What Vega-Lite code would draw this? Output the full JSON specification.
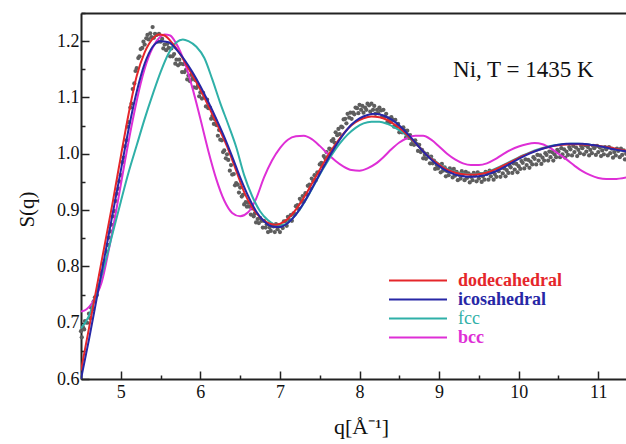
{
  "$schema": "https://vega.github.io/schema/vega-lite/v6.json",
  "width": 546,
  "height": 366,
  "autosize": {"type": "none"},
  "padding": {"left": 81, "top": 13, "right": 0, "bottom": 65},
  "background": "white",
  "config": {
    "view": {"stroke": null},
    "font": "Liberation Serif",
    "axis": {"labelFont": "Liberation Serif", "titleFont": "Liberation Serif", "domainColor": "#222", "tickColor": "#222", "labelColor": "#111", "titleColor": "#111", "grid": false, "domainWidth": 2, "tickWidth": 1.5}
  },
  "datasets": {
    "exp": [
      {"q":4.5,"s":0.685},{"q":4.51,"s":0.674},{"q":4.525,"s":0.692},{"q":4.54,"s":0.688},{"q":4.55,"s":0.703},{"q":4.575,"s":0.7},{"q":4.6,"s":0.716},{"q":4.615,"s":0.708},{"q":4.625,"s":0.727},{"q":4.65,"s":0.724},{"q":4.66,"s":0.738},{"q":4.675,"s":0.745},{"q":4.7,"s":0.749},{"q":4.72,"s":0.766},{"q":4.75,"s":0.786},{"q":4.765,"s":0.79},{"q":4.78,"s":0.805},{"q":4.8,"s":0.808},{"q":4.82,"s":0.826},{"q":4.835,"s":0.838},{"q":4.85,"s":0.851},{"q":4.87,"s":0.862},{"q":4.88,"s":0.874},{"q":4.9,"s":0.889},{"q":4.92,"s":0.898},{"q":4.935,"s":0.916},{"q":4.95,"s":0.929},{"q":4.97,"s":0.938},{"q":4.98,"s":0.951},{"q":5.0,"s":0.962},{"q":5.02,"s":0.985},{"q":5.035,"s":0.993},{"q":5.05,"s":1.013},{"q":5.07,"s":1.024},{"q":5.085,"s":1.048},{"q":5.1,"s":1.056},{"q":5.12,"s":1.082},{"q":5.135,"s":1.089},{"q":5.15,"s":1.115},{"q":5.17,"s":1.125},{"q":5.185,"s":1.147},{"q":5.2,"s":1.152},{"q":5.22,"s":1.17},{"q":5.235,"s":1.173},{"q":5.25,"s":1.186},{"q":5.27,"s":1.188},{"q":5.285,"s":1.199},{"q":5.3,"s":1.194},{"q":5.32,"s":1.205},{"q":5.335,"s":1.211},{"q":5.35,"s":1.203},{"q":5.37,"s":1.214},{"q":5.385,"s":1.207},{"q":5.4,"s":1.225},{"q":5.415,"s":1.206},{"q":5.43,"s":1.213},
      {"q":5.45,"s":1.211},{"q":5.465,"s":1.199},{"q":5.48,"s":1.213},{"q":5.5,"s":1.199},{"q":5.52,"s":1.204},{"q":5.535,"s":1.187},{"q":5.55,"s":1.194},{"q":5.57,"s":1.184},{"q":5.585,"s":1.195},{"q":5.6,"s":1.188},{"q":5.62,"s":1.173},{"q":5.635,"s":1.187},{"q":5.65,"s":1.173},{"q":5.67,"s":1.177},{"q":5.685,"s":1.16},{"q":5.7,"s":1.167},{"q":5.72,"s":1.157},{"q":5.735,"s":1.167},{"q":5.75,"s":1.16},{"q":5.77,"s":1.145},{"q":5.785,"s":1.159},{"q":5.8,"s":1.145},{"q":5.82,"s":1.149},{"q":5.835,"s":1.132},{"q":5.85,"s":1.139},{"q":5.87,"s":1.129},{"q":5.885,"s":1.14},{"q":5.9,"s":1.133},{"q":5.92,"s":1.118},{"q":5.935,"s":1.131},{"q":5.95,"s":1.117},{"q":5.97,"s":1.121},{"q":5.985,"s":1.102},{"q":6.0,"s":1.109},{"q":6.02,"s":1.098},{"q":6.035,"s":1.108},{"q":6.05,"s":1.1},{"q":6.07,"s":1.084},{"q":6.085,"s":1.096},{"q":6.1,"s":1.081},{"q":6.12,"s":1.082},{"q":6.135,"s":1.062},{"q":6.15,"s":1.067},{"q":6.17,"s":1.053},{"q":6.185,"s":1.061},{"q":6.2,"s":1.051},{"q":6.22,"s":1.032},{"q":6.235,"s":1.042},{"q":6.25,"s":1.025},{"q":6.27,"s":1.024},{"q":6.285,"s":1.003},{"q":6.3,"s":1.006},{"q":6.32,"s":0.992},{"q":6.335,"s":0.999},{"q":6.35,"s":0.989},{"q":6.37,"s":0.97},{"q":6.385,"s":0.98},{"q":6.4,"s":0.963},{"q":6.42,"s":0.964},{"q":6.435,"s":0.944},{"q":6.45,"s":0.948},
      {"q":6.47,"s":0.945},{"q":6.485,"s":0.931},{"q":6.5,"s":0.94},{"q":6.52,"s":0.924},{"q":6.535,"s":0.927},{"q":6.55,"s":0.91},{"q":6.57,"s":0.914},{"q":6.585,"s":0.906},{"q":6.6,"s":0.913},{"q":6.62,"s":0.906},{"q":6.635,"s":0.892},{"q":6.65,"s":0.903},{"q":6.67,"s":0.889},{"q":6.685,"s":0.894},{"q":6.7,"s":0.878},{"q":6.72,"s":0.884},{"q":6.735,"s":0.877},{"q":6.75,"s":0.886},{"q":6.77,"s":0.881},{"q":6.785,"s":0.869},{"q":6.8,"s":0.881},{"q":6.82,"s":0.869},{"q":6.835,"s":0.875},{"q":6.85,"s":0.861},{"q":6.87,"s":0.869},{"q":6.885,"s":0.863},{"q":6.9,"s":0.874},{"q":6.92,"s":0.871},{"q":6.935,"s":0.861},{"q":6.95,"s":0.875},{"q":6.97,"s":0.866},{"q":6.985,"s":0.873},{"q":7.0,"s":0.861},{"q":7.02,"s":0.872},{"q":7.035,"s":0.868},{"q":7.05,"s":0.88},{"q":7.07,"s":0.88},{"q":7.085,"s":0.872},{"q":7.1,"s":0.888},{"q":7.12,"s":0.882},{"q":7.135,"s":0.891},{"q":7.15,"s":0.881},{"q":7.17,"s":0.894},{"q":7.185,"s":0.893},{"q":7.2,"s":0.907},{"q":7.22,"s":0.909},{"q":7.235,"s":0.902},{"q":7.25,"s":0.92},{"q":7.27,"s":0.915},{"q":7.285,"s":0.925},{"q":7.3,"s":0.916},{"q":7.32,"s":0.93},{"q":7.335,"s":0.928},{"q":7.35,"s":0.943},{"q":7.37,"s":0.945},{"q":7.385,"s":0.938},{"q":7.4,"s":0.956},{"q":7.42,"s":0.951},{"q":7.435,"s":0.962},{"q":7.45,"s":0.953},{"q":7.47,"s":0.967},{"q":7.485,"s":0.966},{"q":7.5,"s":0.981},{"q":7.52,"s":0.984},{"q":7.535,"s":0.978},{"q":7.55,"s":0.996},{"q":7.57,"s":0.992},{"q":7.585,"s":1.003},{"q":7.6,"s":0.994},{"q":7.62,"s":1.009},{"q":7.635,"s":1.008},{"q":7.65,"s":1.023},{"q":7.67,"s":1.026},{"q":7.685,"s":1.02},{"q":7.7,"s":1.038},{"q":7.72,"s":1.033},{"q":7.735,"s":1.044},{"q":7.75,"s":1.035},{"q":7.77,"s":1.048},{"q":7.785,"s":1.047},{"q":7.8,"s":1.061},{"q":7.82,"s":1.062},{"q":7.835,"s":1.054},{"q":7.85,"s":1.071},{"q":7.87,"s":1.064},{"q":7.885,"s":1.073},{"q":7.9,"s":1.062},{"q":7.92,"s":1.073},{"q":7.935,"s":1.07},{"q":7.95,"s":1.082},{"q":7.97,"s":1.081},{"q":7.985,"s":1.072},{"q":8.0,"s":1.087},{"q":8.02,"s":1.078},{"q":8.035,"s":1.085},{"q":8.05,"s":1.073},{"q":8.07,"s":1.082},{"q":8.085,"s":1.078},{"q":8.1,"s":1.089},{"q":8.12,"s":1.086},{"q":8.135,"s":1.075},{"q":8.15,"s":1.089},{"q":8.17,"s":1.078},{"q":8.185,"s":1.085},{"q":8.2,"s":1.071},{"q":8.22,"s":1.078},{"q":8.235,"s":1.072},{"q":8.25,"s":1.082},{"q":8.27,"s":1.077},{"q":8.285,"s":1.066},{"q":8.3,"s":1.078},{"q":8.32,"s":1.066},{"q":8.335,"s":1.071},{"q":8.35,"s":1.056},{"q":8.37,"s":1.063},{"q":8.385,"s":1.056},{"q":8.4,"s":1.065},{"q":8.42,"s":1.06},{"q":8.435,"s":1.048},{"q":8.45,"s":1.06},{"q":8.47,"s":1.048},{"q":8.485,"s":1.053},{"q":8.5,"s":1.038},{"q":8.52,"s":1.045},{"q":8.535,"s":1.038},{"q":8.55,"s":1.047},{"q":8.57,"s":1.041},{"q":8.585,"s":1.029},{"q":8.6,"s":1.041},{"q":8.62,"s":1.028},{"q":8.635,"s":1.033},{"q":8.65,"s":1.017},{"q":8.67,"s":1.023},{"q":8.685,"s":1.016},{"q":8.7,"s":1.024},{"q":8.72,"s":1.017},{"q":8.735,"s":1.005},{"q":8.75,"s":1.016},{"q":8.77,"s":1.003},{"q":8.785,"s":1.007},{"q":8.8,"s":0.992},{"q":8.82,"s":0.998},{"q":8.835,"s":0.991},{"q":8.85,"s":1.0},{"q":8.87,"s":0.995},{"q":8.885,"s":0.983},{"q":8.9,"s":0.995},{"q":8.92,"s":0.983},{"q":8.935,"s":0.988},{"q":8.95,"s":0.973},{"q":8.97,"s":0.98},{"q":8.985,"s":0.974},
      {"q":9.0,"s":0.979},{"q":9.02,"s":0.967},{"q":9.035,"s":0.982},{"q":9.05,"s":0.97},{"q":9.07,"s":0.976},{"q":9.085,"s":0.96},{"q":9.1,"s":0.969},{"q":9.12,"s":0.962},{"q":9.135,"s":0.974},{"q":9.15,"s":0.97},{"q":9.17,"s":0.958},{"q":9.185,"s":0.973},{"q":9.2,"s":0.961},{"q":9.22,"s":0.968},{"q":9.235,"s":0.953},{"q":9.25,"s":0.963},{"q":9.27,"s":0.956},{"q":9.285,"s":0.969},{"q":9.3,"s":0.964},{"q":9.32,"s":0.953},{"q":9.335,"s":0.968},{"q":9.35,"s":0.957},{"q":9.37,"s":0.965},{"q":9.385,"s":0.949},{"q":9.4,"s":0.959},{"q":9.42,"s":0.953},{"q":9.435,"s":0.966},{"q":9.45,"s":0.962},{"q":9.47,"s":0.951},{"q":9.485,"s":0.967},{"q":9.5,"s":0.956},{"q":9.52,"s":0.964},{"q":9.535,"s":0.95},{"q":9.55,"s":0.96},{"q":9.57,"s":0.954},{"q":9.585,"s":0.968},{"q":9.6,"s":0.964},{"q":9.62,"s":0.954},{"q":9.635,"s":0.97},{"q":9.65,"s":0.96},{"q":9.67,"s":0.968},{"q":9.685,"s":0.954},{"q":9.7,"s":0.964},{"q":9.72,"s":0.959},{"q":9.735,"s":0.972},{"q":9.75,"s":0.969},{"q":9.77,"s":0.959},{"q":9.785,"s":0.975},{"q":9.8,"s":0.965},{"q":9.82,"s":0.974},{"q":9.835,"s":0.96},{"q":9.85,"s":0.971},{"q":9.87,"s":0.966},{"q":9.885,"s":0.979},{"q":9.9,"s":0.976},{"q":9.92,"s":0.966},{"q":9.935,"s":0.983},{"q":9.95,"s":0.972},{"q":9.97,"s":0.982},{"q":9.985,"s":0.967},{"q":10.0,"s":0.978},{"q":10.02,"s":0.973},{"q":10.035,"s":0.987},{"q":10.05,"s":0.984},{"q":10.07,"s":0.974},{"q":10.085,"s":0.99},{"q":10.1,"s":0.98},{"q":10.12,"s":0.989},{"q":10.135,"s":0.975},{"q":10.15,"s":0.986},{"q":10.17,"s":0.981},{"q":10.185,"s":0.994},{"q":10.2,"s":0.991},{"q":10.22,"s":0.981},{"q":10.235,"s":0.998},{"q":10.25,"s":0.988},{"q":10.27,"s":0.997},{"q":10.285,"s":0.982},{"q":10.3,"s":0.993},{"q":10.32,"s":0.988},{"q":10.335,"s":1.001},{"q":10.35,"s":0.998},{"q":10.37,"s":0.988},{"q":10.385,"s":1.004},{"q":10.4,"s":0.994},{"q":10.42,"s":1.003},{"q":10.435,"s":0.988},{"q":10.45,"s":0.999},{"q":10.47,"s":0.994},{"q":10.485,"s":1.007},{"q":10.5,"s":1.004},{"q":10.52,"s":0.994},{"q":10.535,"s":1.01},{"q":10.55,"s":0.999},{"q":10.57,"s":1.008},{"q":10.585,"s":0.993},{"q":10.6,"s":1.004},{"q":10.62,"s":0.998},{"q":10.635,"s":1.012},{"q":10.65,"s":1.008},{"q":10.67,"s":0.997},{"q":10.685,"s":1.014},{"q":10.7,"s":1.003},{"q":10.72,"s":1.011},{"q":10.735,"s":0.996},{"q":10.75,"s":1.007},{"q":10.77,"s":1.001},{"q":10.785,"s":1.014},{"q":10.8,"s":1.01},{"q":10.82,"s":0.999},{"q":10.835,"s":1.015},{"q":10.85,"s":1.004},{"q":10.87,"s":1.012},{"q":10.885,"s":0.997},{"q":10.9,"s":1.007},{"q":10.92,"s":1.001},{"q":10.935,"s":1.014},{"q":10.95,"s":1.01},{"q":10.97,"s":0.998},{"q":10.985,"s":1.014},{"q":11.0,"s":1.003},{"q":11.02,"s":1.011},{"q":11.035,"s":0.996},{"q":11.05,"s":1.006},{"q":11.07,"s":0.999},{"q":11.085,"s":1.012},{"q":11.1,"s":1.008},{"q":11.12,"s":0.997},{"q":11.135,"s":1.012},{"q":11.15,"s":1.001},{"q":11.17,"s":1.009},{"q":11.185,"s":0.993},{"q":11.2,"s":1.003},{"q":11.22,"s":0.997},{"q":11.235,"s":1.009},{"q":11.25,"s":1.005},{"q":11.27,"s":0.994},{"q":11.285,"s":1.009},{"q":11.3,"s":0.998},{"q":11.32,"s":1.006},{"q":11.335,"s":0.99},{"q":11.35,"s":1.0}
    ],
    "curves": [
      {"m":"bcc","q":4.5,"s":0.72},{"m":"bcc","q":4.57,"s":0.724},{"m":"bcc","q":4.64,"s":0.735},{"m":"bcc","q":4.7,"s":0.75},{"m":"bcc","q":4.76,"s":0.772},{"m":"bcc","q":4.85,"s":0.83},{"m":"bcc","q":4.95,"s":0.905},{"m":"bcc","q":5.05,"s":0.985},{"m":"bcc","q":5.15,"s":1.06},{"m":"bcc","q":5.25,"s":1.125},{"m":"bcc","q":5.35,"s":1.172},{"m":"bcc","q":5.45,"s":1.2},{"m":"bcc","q":5.55,"s":1.212},{"m":"bcc","q":5.62,"s":1.21},{"m":"bcc","q":5.7,"s":1.195},{"m":"bcc","q":5.8,"s":1.163},{"m":"bcc","q":5.9,"s":1.117},{"m":"bcc","q":6.0,"s":1.062},{"m":"bcc","q":6.1,"s":1.005},{"m":"bcc","q":6.2,"s":0.955},{"m":"bcc","q":6.3,"s":0.917},{"m":"bcc","q":6.4,"s":0.895},{"m":"bcc","q":6.5,"s":0.889},{"m":"bcc","q":6.6,"s":0.896},{"m":"bcc","q":6.7,"s":0.92},{"m":"bcc","q":6.8,"s":0.958},{"m":"bcc","q":6.9,"s":0.988},{"m":"bcc","q":7.0,"s":1.01},{"m":"bcc","q":7.1,"s":1.025},{"m":"bcc","q":7.2,"s":1.031},{"m":"bcc","q":7.3,"s":1.032},{"m":"bcc","q":7.4,"s":1.026},{"m":"bcc","q":7.5,"s":1.014},{"m":"bcc","q":7.6,"s":1.0},{"m":"bcc","q":7.7,"s":0.987},{"m":"bcc","q":7.8,"s":0.977},{"m":"bcc","q":7.9,"s":0.971},{"m":"bcc","q":8.0,"s":0.97},{"m":"bcc","q":8.1,"s":0.974},{"m":"bcc","q":8.2,"s":0.982},{"m":"bcc","q":8.3,"s":0.994},{"m":"bcc","q":8.4,"s":1.008},{"m":"bcc","q":8.5,"s":1.02},{"m":"bcc","q":8.6,"s":1.028},{"m":"bcc","q":8.7,"s":1.032},{"m":"bcc","q":8.8,"s":1.032},{"m":"bcc","q":8.9,"s":1.025},{"m":"bcc","q":9.0,"s":1.013},{"m":"bcc","q":9.1,"s":1.0},{"m":"bcc","q":9.2,"s":0.99},{"m":"bcc","q":9.3,"s":0.983},{"m":"bcc","q":9.4,"s":0.98},{"m":"bcc","q":9.5,"s":0.98},{"m":"bcc","q":9.6,"s":0.983},{"m":"bcc","q":9.7,"s":0.99},{"m":"bcc","q":9.8,"s":0.999},{"m":"bcc","q":9.9,"s":1.007},{"m":"bcc","q":10.0,"s":1.013},{"m":"bcc","q":10.1,"s":1.017},{"m":"bcc","q":10.2,"s":1.019},{"m":"bcc","q":10.3,"s":1.017},{"m":"bcc","q":10.4,"s":1.01},{"m":"bcc","q":10.5,"s":1.0},{"m":"bcc","q":10.6,"s":0.99},{"m":"bcc","q":10.7,"s":0.979},{"m":"bcc","q":10.8,"s":0.969},{"m":"bcc","q":10.9,"s":0.962},{"m":"bcc","q":11.0,"s":0.957},{"m":"bcc","q":11.1,"s":0.955},{"m":"bcc","q":11.2,"s":0.955},{"m":"bcc","q":11.36,"s":0.958},
      {"m":"fcc","q":4.5,"s":0.69},{"m":"fcc","q":4.6,"s":0.712},{"m":"fcc","q":4.7,"s":0.755},{"m":"fcc","q":4.8,"s":0.805},{"m":"fcc","q":4.9,"s":0.86},{"m":"fcc","q":5.0,"s":0.915},{"m":"fcc","q":5.1,"s":0.968},{"m":"fcc","q":5.2,"s":1.015},{"m":"fcc","q":5.3,"s":1.062},{"m":"fcc","q":5.4,"s":1.105},{"m":"fcc","q":5.5,"s":1.145},{"m":"fcc","q":5.6,"s":1.178},{"m":"fcc","q":5.7,"s":1.198},{"m":"fcc","q":5.78,"s":1.203},{"m":"fcc","q":5.85,"s":1.2},{"m":"fcc","q":5.95,"s":1.19},{"m":"fcc","q":6.05,"s":1.17},{"m":"fcc","q":6.15,"s":1.132},{"m":"fcc","q":6.25,"s":1.09},{"m":"fcc","q":6.35,"s":1.052},{"m":"fcc","q":6.45,"s":1.012},{"m":"fcc","q":6.55,"s":0.962},{"m":"fcc","q":6.65,"s":0.925},{"m":"fcc","q":6.75,"s":0.898},{"m":"fcc","q":6.85,"s":0.882},{"m":"fcc","q":6.95,"s":0.874},{"m":"fcc","q":7.05,"s":0.874},{"m":"fcc","q":7.15,"s":0.884},{"m":"fcc","q":7.25,"s":0.901},{"m":"fcc","q":7.35,"s":0.924},{"m":"fcc","q":7.45,"s":0.95},{"m":"fcc","q":7.55,"s":0.975},{"m":"fcc","q":7.65,"s":0.998},{"m":"fcc","q":7.75,"s":1.018},{"m":"fcc","q":7.85,"s":1.034},{"m":"fcc","q":7.95,"s":1.046},{"m":"fcc","q":8.05,"s":1.054},{"m":"fcc","q":8.15,"s":1.057},{"m":"fcc","q":8.25,"s":1.057},{"m":"fcc","q":8.35,"s":1.053},{"m":"fcc","q":8.45,"s":1.046},{"m":"fcc","q":8.55,"s":1.037},{"m":"fcc","q":8.65,"s":1.025},{"m":"fcc","q":8.75,"s":1.012},{"m":"fcc","q":8.85,"s":0.999},{"m":"fcc","q":8.95,"s":0.987},{"m":"fcc","q":9.05,"s":0.977},{"m":"fcc","q":9.15,"s":0.97},{"m":"fcc","q":9.25,"s":0.966},{"m":"fcc","q":9.35,"s":0.964},{"m":"fcc","q":9.45,"s":0.964},{"m":"fcc","q":9.55,"s":0.966},{"m":"fcc","q":9.65,"s":0.97},{"m":"fcc","q":9.75,"s":0.976},{"m":"fcc","q":9.85,"s":0.983},{"m":"fcc","q":9.95,"s":0.99},{"m":"fcc","q":10.05,"s":0.997},{"m":"fcc","q":10.15,"s":1.003},{"m":"fcc","q":10.25,"s":1.008},{"m":"fcc","q":10.35,"s":1.012},{"m":"fcc","q":10.45,"s":1.015},{"m":"fcc","q":10.55,"s":1.017},{"m":"fcc","q":10.65,"s":1.018},{"m":"fcc","q":10.75,"s":1.018},{"m":"fcc","q":10.85,"s":1.017},{"m":"fcc","q":10.95,"s":1.015},{"m":"fcc","q":11.05,"s":1.013},{"m":"fcc","q":11.15,"s":1.01},{"m":"fcc","q":11.25,"s":1.007},{"m":"fcc","q":11.36,"s":1.004},
      {"m":"dodecahedral","q":4.5,"s":0.615},{"m":"dodecahedral","q":4.6,"s":0.69},{"m":"dodecahedral","q":4.7,"s":0.765},{"m":"dodecahedral","q":4.8,"s":0.84},{"m":"dodecahedral","q":4.9,"s":0.915},{"m":"dodecahedral","q":5.0,"s":0.995},{"m":"dodecahedral","q":5.1,"s":1.072},{"m":"dodecahedral","q":5.2,"s":1.138},{"m":"dodecahedral","q":5.3,"s":1.18},{"m":"dodecahedral","q":5.4,"s":1.204},{"m":"dodecahedral","q":5.48,"s":1.212},{"m":"dodecahedral","q":5.55,"s":1.21},{"m":"dodecahedral","q":5.65,"s":1.196},{"m":"dodecahedral","q":5.75,"s":1.176},{"m":"dodecahedral","q":5.85,"s":1.152},{"m":"dodecahedral","q":5.95,"s":1.127},{"m":"dodecahedral","q":6.05,"s":1.1},{"m":"dodecahedral","q":6.15,"s":1.07},{"m":"dodecahedral","q":6.25,"s":1.04},{"m":"dodecahedral","q":6.35,"s":1.008},{"m":"dodecahedral","q":6.45,"s":0.97},{"m":"dodecahedral","q":6.55,"s":0.932},{"m":"dodecahedral","q":6.65,"s":0.905},{"m":"dodecahedral","q":6.75,"s":0.887},{"m":"dodecahedral","q":6.85,"s":0.877},{"m":"dodecahedral","q":6.95,"s":0.874},{"m":"dodecahedral","q":7.05,"s":0.879},{"m":"dodecahedral","q":7.15,"s":0.892},{"m":"dodecahedral","q":7.25,"s":0.911},{"m":"dodecahedral","q":7.35,"s":0.934},{"m":"dodecahedral","q":7.45,"s":0.959},{"m":"dodecahedral","q":7.55,"s":0.984},{"m":"dodecahedral","q":7.65,"s":1.007},{"m":"dodecahedral","q":7.75,"s":1.027},{"m":"dodecahedral","q":7.85,"s":1.044},{"m":"dodecahedral","q":7.95,"s":1.056},{"m":"dodecahedral","q":8.05,"s":1.063},{"m":"dodecahedral","q":8.15,"s":1.066},{"m":"dodecahedral","q":8.25,"s":1.065},{"m":"dodecahedral","q":8.35,"s":1.06},{"m":"dodecahedral","q":8.45,"s":1.051},{"m":"dodecahedral","q":8.55,"s":1.04},{"m":"dodecahedral","q":8.65,"s":1.026},{"m":"dodecahedral","q":8.75,"s":1.012},{"m":"dodecahedral","q":8.85,"s":0.998},{"m":"dodecahedral","q":8.95,"s":0.986},{"m":"dodecahedral","q":9.05,"s":0.976},{"m":"dodecahedral","q":9.15,"s":0.969},{"m":"dodecahedral","q":9.25,"s":0.965},{"m":"dodecahedral","q":9.35,"s":0.963},{"m":"dodecahedral","q":9.45,"s":0.963},{"m":"dodecahedral","q":9.55,"s":0.965},{"m":"dodecahedral","q":9.65,"s":0.969},{"m":"dodecahedral","q":9.75,"s":0.975},{"m":"dodecahedral","q":9.85,"s":0.982},{"m":"dodecahedral","q":9.95,"s":0.989},{"m":"dodecahedral","q":10.05,"s":0.996},{"m":"dodecahedral","q":10.15,"s":1.002},{"m":"dodecahedral","q":10.25,"s":1.007},{"m":"dodecahedral","q":10.35,"s":1.011},{"m":"dodecahedral","q":10.45,"s":1.014},{"m":"dodecahedral","q":10.55,"s":1.016},{"m":"dodecahedral","q":10.65,"s":1.017},{"m":"dodecahedral","q":10.75,"s":1.017},{"m":"dodecahedral","q":10.85,"s":1.016},{"m":"dodecahedral","q":10.95,"s":1.015},{"m":"dodecahedral","q":11.05,"s":1.013},{"m":"dodecahedral","q":11.15,"s":1.011},{"m":"dodecahedral","q":11.25,"s":1.008},{"m":"dodecahedral","q":11.36,"s":1.005},
      {"m":"icosahedral","q":4.5,"s":0.6},{"m":"icosahedral","q":4.6,"s":0.67},{"m":"icosahedral","q":4.7,"s":0.745},{"m":"icosahedral","q":4.8,"s":0.82},{"m":"icosahedral","q":4.9,"s":0.895},{"m":"icosahedral","q":5.0,"s":0.97},{"m":"icosahedral","q":5.1,"s":1.045},{"m":"icosahedral","q":5.2,"s":1.11},{"m":"icosahedral","q":5.3,"s":1.16},{"m":"icosahedral","q":5.4,"s":1.19},{"m":"icosahedral","q":5.5,"s":1.2},{"m":"icosahedral","q":5.6,"s":1.198},{"m":"icosahedral","q":5.7,"s":1.185},{"m":"icosahedral","q":5.8,"s":1.167},{"m":"icosahedral","q":5.9,"s":1.145},{"m":"icosahedral","q":6.0,"s":1.12},{"m":"icosahedral","q":6.1,"s":1.092},{"m":"icosahedral","q":6.2,"s":1.062},{"m":"icosahedral","q":6.3,"s":1.03},{"m":"icosahedral","q":6.4,"s":0.995},{"m":"icosahedral","q":6.5,"s":0.958},{"m":"icosahedral","q":6.6,"s":0.925},{"m":"icosahedral","q":6.7,"s":0.898},{"m":"icosahedral","q":6.8,"s":0.88},{"m":"icosahedral","q":6.9,"s":0.871},{"m":"icosahedral","q":7.0,"s":0.87},{"m":"icosahedral","q":7.1,"s":0.877},{"m":"icosahedral","q":7.2,"s":0.892},{"m":"icosahedral","q":7.3,"s":0.913},{"m":"icosahedral","q":7.4,"s":0.938},{"m":"icosahedral","q":7.5,"s":0.964},{"m":"icosahedral","q":7.6,"s":0.99},{"m":"icosahedral","q":7.7,"s":1.014},{"m":"icosahedral","q":7.8,"s":1.035},{"m":"icosahedral","q":7.9,"s":1.052},{"m":"icosahedral","q":8.0,"s":1.063},{"m":"icosahedral","q":8.1,"s":1.069},{"m":"icosahedral","q":8.2,"s":1.071},{"m":"icosahedral","q":8.3,"s":1.068},{"m":"icosahedral","q":8.4,"s":1.061},{"m":"icosahedral","q":8.5,"s":1.05},{"m":"icosahedral","q":8.6,"s":1.036},{"m":"icosahedral","q":8.7,"s":1.02},{"m":"icosahedral","q":8.8,"s":1.004},{"m":"icosahedral","q":8.9,"s":0.99},{"m":"icosahedral","q":9.0,"s":0.978},{"m":"icosahedral","q":9.1,"s":0.969},{"m":"icosahedral","q":9.2,"s":0.963},{"m":"icosahedral","q":9.3,"s":0.96},{"m":"icosahedral","q":9.4,"s":0.959},{"m":"icosahedral","q":9.5,"s":0.96},{"m":"icosahedral","q":9.6,"s":0.963},{"m":"icosahedral","q":9.7,"s":0.968},{"m":"icosahedral","q":9.8,"s":0.975},{"m":"icosahedral","q":9.9,"s":0.983},{"m":"icosahedral","q":10.0,"s":0.991},{"m":"icosahedral","q":10.1,"s":0.998},{"m":"icosahedral","q":10.2,"s":1.004},{"m":"icosahedral","q":10.3,"s":1.009},{"m":"icosahedral","q":10.4,"s":1.013},{"m":"icosahedral","q":10.5,"s":1.016},{"m":"icosahedral","q":10.6,"s":1.018},{"m":"icosahedral","q":10.7,"s":1.018},{"m":"icosahedral","q":10.8,"s":1.018},{"m":"icosahedral","q":10.9,"s":1.016},{"m":"icosahedral","q":11.0,"s":1.014},{"m":"icosahedral","q":11.1,"s":1.011},{"m":"icosahedral","q":11.2,"s":1.008},{"m":"icosahedral","q":11.36,"s":1.004}
    ],
    "note": [{"q": 9.175, "s": 1.137, "label": "Ni, T = 1435 K"}]
  },
  "resolve": {"axis": {"x": "independent", "y": "independent"}},
  "layer": [
    {
      "data": {"name": "exp"},
      "mark": {"type": "circle", "size": 18, "color": "#5e5e5e", "opacity": 1},
      "encoding": {
        "x": {"field": "q", "type": "quantitative", "scale": {"domain": [4.5, 11.361], "nice": false, "zero": false},
          "axis": {"orient": "bottom", "values": [4.5,5,5.5,6,6.5,7,7.5,8,8.5,9,9.5,10,10.5,11],
            "labelExpr": "datum.value % 1 === 0 ? format(datum.value, 'd') : ''",
            "tickSize": {"condition": {"test": "datum.value % 1 === 0", "value": -8}, "value": -4},
            "labelFontSize": 18, "labelPadding": 12, "labelOverlap": false, "labelFlush": false,
            "title": "q[Å⁻¹]", "titleFontSize": 22, "titleFontWeight": "normal", "titleX": 280, "titleY": 54, "titleBaseline": "alphabetic", "titleAlign": "center"}},
        "y": {"field": "s", "type": "quantitative", "scale": {"domain": [0.6, 1.25], "nice": false, "zero": false},
          "axis": {"orient": "left", "values": [0.6,0.65,0.7,0.75,0.8,0.85,0.9,0.95,1.0,1.05,1.1,1.15,1.2,1.25],
            "labelExpr": "abs(datum.value * 10 - round(datum.value * 10)) < 0.001 ? format(datum.value, '.1f') : ''",
            "tickSize": {"condition": {"test": "abs(datum.value * 10 - round(datum.value * 10)) < 0.001", "value": -8}, "value": -4},
            "labelFontSize": 18, "labelPadding": 10, "labelOverlap": false, "labelFlush": false,
            "title": "S(q)", "titleFontSize": 21, "titleFontWeight": "normal", "titleX": -48, "titleY": 196, "titleBaseline": "alphabetic", "titleAlign": "center", "titleAngle": -90}}
      }
    },
    {
      "data": {"name": "curves"},
      "mark": {"type": "line", "strokeWidth": 2, "interpolate": "monotone", "clip": true},
      "encoding": {
        "x": {"field": "q", "type": "quantitative", "axis": null},
        "y": {"field": "s", "type": "quantitative", "axis": null},
        "color": {"field": "m", "type": "nominal",
          "scale": {"domain": ["dodecahedral", "icosahedral", "fcc", "bcc"], "range": ["#e5262b", "#2727a6", "#2fb0a8", "#de2fd6"]},
          "legend": {"orient": "none", "legendX": 307, "legendY": 258, "title": null, "symbolType": "stroke", "symbolSize": 3364, "symbolStrokeWidth": 2, "clipHeight": 19, "rowPadding": 0, "padding": 0, "labelFont": "Liberation Serif", "labelFontSize": 18, "labelOffset": 10,
            "encode": {"labels": {"update": {"fill": {"signal": "scale('color', datum.value)"}, "fontWeight": {"signal": "datum.value === 'fcc' ? 'normal' : 'bold'"}}}}}
        },
        "order": {"value": 0}
      }
    },
    {
      "data": {"name": "note"},
      "mark": {"type": "text", "align": "left", "baseline": "alphabetic", "font": "Liberation Serif", "fontSize": 23, "color": "#111"},
      "encoding": {
        "x": {"field": "q", "type": "quantitative", "axis": {"orient": "top", "labels": false, "ticks": false, "title": null, "domainWidth": 2}},
        "y": {"field": "s", "type": "quantitative", "axis": null},
        "text": {"field": "label"}
      }
    }
  ]
}
